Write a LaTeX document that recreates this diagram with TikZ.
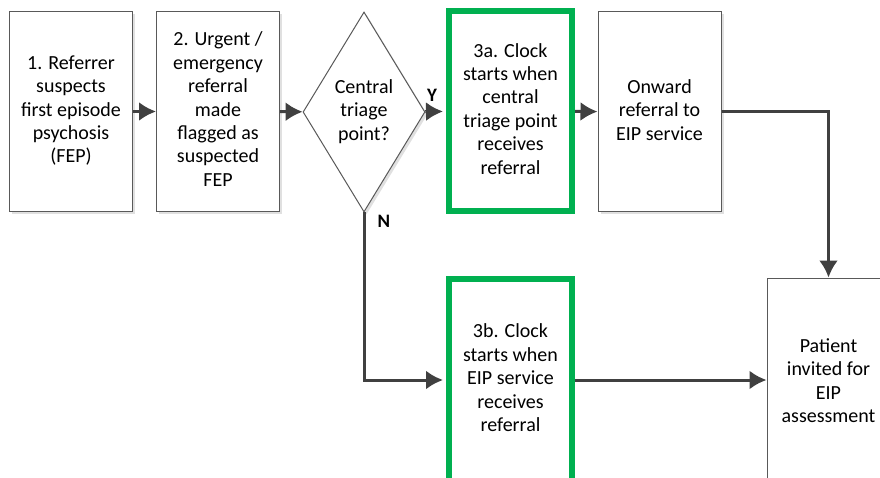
\documentclass[tikz,border=0pt]{standalone}
\usepackage{fontspec}
\setmainfont{Carlito}
\usetikzlibrary{shapes.geometric,arrows.meta,shadows}
\definecolor{eipgreen}{HTML}{00B050}
\definecolor{flowgrey}{HTML}{404040}

\begin{document}
\begin{tikzpicture}[x=1pt,y=-1pt,
    box/.style={draw=black!65, line width=1pt, fill=white, minimum width=123pt, minimum height=200pt, inner sep=0pt, font=\fontsize{20}{23.4}\selectfont, drop shadow={shadow xshift=2.5pt, shadow yshift=-2.5pt, fill=black!12, opacity=1}},
    clockbox/.style={draw=eipgreen, line width=6pt, fill=white, minimum width=123pt, minimum height=200pt, inner sep=0pt, font=\fontsize{20}{23.4}\selectfont},
    flow/.style={-{Latex[length=17pt,width=19pt]}, line width=3pt, draw=flowgrey},
    yn/.style={font=\fontsize{19}{22}\selectfont\bfseries, inner sep=0pt}]
%		    \draw[help lines] (0,0) grid (880,478);
			\clip (0,0) rectangle (880,478);
			\node[box] (referrer) at (71,111.5) {\begin{tabular}{c} 1. Referrer \\ suspects \\ first episode \\ psychosis \\ (FEP) \end{tabular}};
			\node[box] (urgent) at (218,111.5) {\begin{tabular}{c} 2. Urgent / \\ emergency \\ referral \\ made \\ flagged as \\ suspected \\ FEP \end{tabular}};
			\node[box, diamond, minimum width=122pt, minimum height=200pt, aspect=0.6] (triage) at (364,112) {\begin{tabular}{c} Central \\ triage \\ point? \end{tabular}};
			\node[clockbox] (clockA) at (510.5,111) {\begin{tabular}{c} 3a. Clock \\ starts when \\ central \\ triage point \\ receives \\ referral \end{tabular}};
			\node[box] (onward) at (659.5,112) {\begin{tabular}{c} Onward \\ referral to \\ EIP service \end{tabular}};
			\node[clockbox, minimum height=203pt] (clockB) at (510.5,380) {\begin{tabular}{c} 3b. Clock \\ starts when \\ EIP service \\ receives \\ referral \end{tabular}};
			\node[box, minimum height=210pt] (patient) at (828.5,383) {\begin{tabular}{c} Patient \\ invited for \\ EIP \\ assessment \end{tabular}};
			\node[yn] (yes) at (432,95.5) {Y};
			\node[yn] (no) at (384,221.5) {N};
			\draw[flow] (referrer) -- (urgent);
			\draw[flow] (urgent) -- (triage);
			\draw[flow, shorten >=3pt] (triage) -- (clockA);
			\draw[flow] (clockA) -- (onward);
			\draw[flow] (onward.east) -| (patient.north);
			\draw[flow, shorten >=3pt] (triage.south) |- (clockB.west);
			\draw[flow] (clockB.east) -- (clockB.east -| patient.west);
\end{tikzpicture}
\end{document}
